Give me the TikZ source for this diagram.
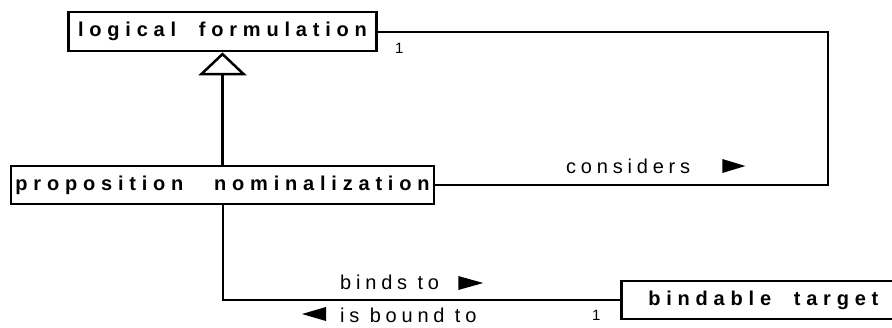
\documentclass[tikz,border=0pt]{standalone}
\usepackage{fontspec}
\setmainfont{Liberation Sans}
\newfontfamily\clsfont{Liberation Sans}[LetterSpace=29, WordSpace=2]
\newfontfamily\lblfont{Liberation Sans}[LetterSpace=24]
\usepackage{tikz}
\usetikzlibrary{arrows.meta}

\begin{document}
\begin{tikzpicture}[x=1pt, y=-1pt,
        classbox/.style={draw=black, line width=2.7pt, fill=white, inner sep=0pt, minimum height=38pt, font=\clsfont\bfseries\fontsize{20}{20}\selectfont},
        assoc/.style={draw=black, line width=2pt},
        rolename/.style={inner sep=0pt, font=\lblfont\fontsize{20}{20}\selectfont},
        mult/.style={inner sep=0pt, font=\fontsize{15}{15}\selectfont}]
            \useasboundingbox (0, 0) rectangle (892, 327);
            \node[classbox, minimum width=308pt, minimum height=39pt] (logform) at (222.5, 31.5) {logical formulation};
            \node[classbox, minimum width=423pt] (propnom) at (222.5, 185) {proposition\hspace{8pt} nominalization};
            \node[classbox, minimum width=284pt, anchor=west] (bindtarget) at (620, 300) {bindable target};
            \coordinate (turn) at (828, 0);
            % generalization
            \draw[line width=2.5pt, -{Triangle[open, length=23pt, width=48pt, line width=2.5pt]}] (propnom.north) -- (logform.south);
            % considers
            \draw[assoc] (propnom.east) -- (propnom.east -| turn) -- (logform.east -| turn) -- (logform.east);
            \node[rolename, anchor=base west] (considers) at (566, 173) {considers};
            \fill (considers.base east) ++(32, 0) -- ++(0, -14) -- ++(23, 7) -- cycle;
            \node[mult, anchor=base west] (logmult) at (395, 53) {1};
            % binds to
            \draw[assoc] (propnom.south) |- (bindtarget.west);
            \node[rolename, anchor=base west] (bindsto) at (340, 289) {binds to};
            \fill (bindsto.base east) ++(19, 1) -- ++(0, -14) -- ++(25, 7) -- cycle;
            \node[rolename, anchor=base west] (boundto) at (340, 322) {is bound to};
            \fill (boundto.base west) ++(-14, -1) -- ++(0, -14) -- ++(-24, 7) -- cycle;
            \node[mult, anchor=base west] (bindmult) at (592, 320) {1};
        \end{tikzpicture}
\end{document}
